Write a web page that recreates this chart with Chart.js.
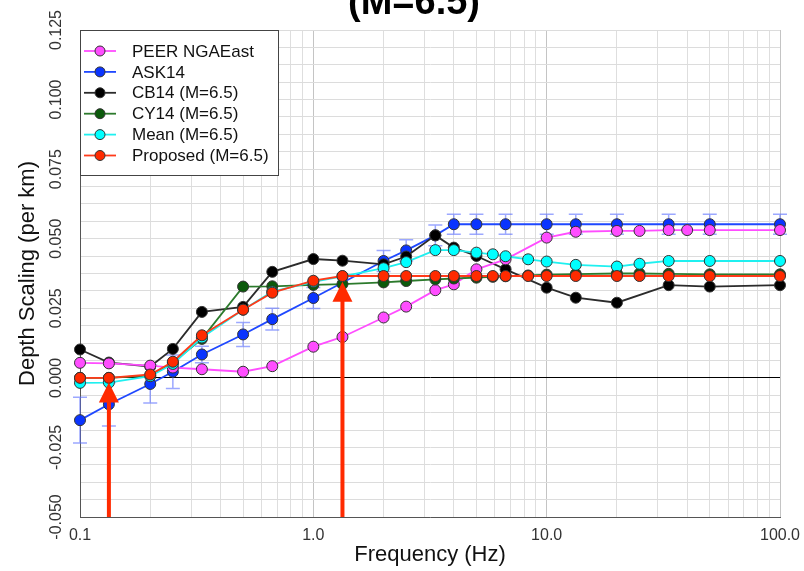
<!DOCTYPE html>
<html>
<head>
<meta charset="utf-8">
<script src="https://cdn.jsdelivr.net/npm/chart.js@4.4.1/dist/chart.umd.min.js"></script>
<style>
  html, body { margin: 0; padding: 0; background: #fff; }
</style>
</head>
<body>
<canvas id="depthChart" width="804" height="571"></canvas>
<script>
// Data (frequency in Hz, depth scaling per km)
const peerFreq = [0.1, 0.133, 0.2, 0.25, 0.333, 0.5, 0.667, 1.0, 1.333, 2.0, 2.5, 3.333, 4.0, 5.0, 6.667, 10, 13.33, 20, 25, 33.33, 40, 50, 100];
const peerVals = [0.0054, 0.0052, 0.0044, 0.0037, 0.0031, 0.0022, 0.0042, 0.0112, 0.0147, 0.0217, 0.0256, 0.0315, 0.0336, 0.0390, 0.0426, 0.0504, 0.0525, 0.0528, 0.0528, 0.0531, 0.0531, 0.0531, 0.0531];

const askFreq = [0.1, 0.133, 0.2, 0.25, 0.333, 0.5, 0.667, 1.0, 2.0, 2.5, 3.333, 4.0, 5.0, 6.667, 10, 13.33, 20, 33.33, 50, 100];
const askVals = [-0.0152, -0.0095, -0.0022, 0.0022, 0.0084, 0.0156, 0.0211, 0.0287, 0.0420, 0.0458, 0.0512, 0.0552, 0.0552, 0.0552, 0.0552, 0.0552, 0.0552, 0.0552, 0.0552, 0.0552];
const askErr  = [0.0082, 0.0078, 0.0068, 0.0060, 0.0030, 0.0043, 0.0039, 0.0038, 0.0038, 0.0038, 0.0037, 0.0036, 0.0036, 0.0036, 0.0036, 0.0036, 0.0036, 0.0036, 0.0036, 0.0036];

const cb14Freq = [0.1, 0.133, 0.2, 0.25, 0.333, 0.5, 0.667, 1.0, 1.333, 2.0, 2.5, 3.333, 4.0, 5.0, 6.667, 10, 13.33, 20, 33.33, 50, 100];
const cb14Vals = [0.0102, 0.0055, 0.0041, 0.0104, 0.0237, 0.0255, 0.0381, 0.0427, 0.0421, 0.0408, 0.0436, 0.0512, 0.0468, 0.0438, 0.0390, 0.0324, 0.0288, 0.0270, 0.0333, 0.0328, 0.0333];

// CY14, Mean and Proposed share one frequency list
const m65Freq  = [0.1, 0.133, 0.2, 0.25, 0.333, 0.5, 0.667, 1.0, 1.333, 2.0, 2.5, 3.333, 4.0, 5.0, 5.88, 6.667, 8.33, 10, 13.33, 20, 25, 33.33, 50, 100];
const cy14Vals = [0.0000, 0.0000, 0.0008, 0.0055, 0.0140, 0.0328, 0.0329, 0.0334, 0.0337, 0.0343, 0.0348, 0.0354, 0.0357, 0.0360, 0.0363, 0.0365, 0.0368, 0.0371, 0.0373, 0.0375, 0.0375, 0.0374, 0.0372, 0.0372];
const meanVals = [-0.0018, -0.0017, 0.0006, 0.0050, 0.0145, 0.0245, 0.0310, 0.0345, 0.0365, 0.0394, 0.0416, 0.0459, 0.0459, 0.0450, 0.0444, 0.0437, 0.0426, 0.0418, 0.0406, 0.0400, 0.0410, 0.0420, 0.0420, 0.0420];
const propVals = [0.0000, 0.0000, 0.0012, 0.0058, 0.0153, 0.0245, 0.0306, 0.0349, 0.0366, 0.0366, 0.0366, 0.0366, 0.0366, 0.0366, 0.0366, 0.0366, 0.0366, 0.0366, 0.0366, 0.0366, 0.0366, 0.0366, 0.0366, 0.0366];

// red arrows (frequency, value at arrow tip)
const arrowFreqs = [0.133, 1.333];
const arrowTips  = [-0.0017, 0.0345];

// axis labels
const xMajorTicks  = [0.1, 1, 10, 100];
const xMajorLabels = ['0.1', '1.0', '10.0', '100.0'];
const yLabelTicks  = [-0.05, -0.025, 0, 0.025, 0.05, 0.075, 0.1, 0.125];

const FONT = "'Liberation Sans', Arial, Helvetica, sans-serif";
Chart.defaults.font.family = FONT;

function toXY(freqs, vals) {
    return freqs.map((f, i) => ({ x: f, y: vals[i] }));
}

// grid lines 1..9 in every decade
const xGridValues = [];
[0.1, 1, 10].forEach(d => {
    for (let m = 1; m <= 9; m++) xGridValues.push(+(m * d).toPrecision(3));
});
xGridValues.push(100);

function isMajorFreq(v) {
    return xMajorTicks.some(m => Math.abs(m - v) / m < 1e-6);
}

function series(label, data, fill, line, order) {
    return {
        label: label,
        data: data,
        borderColor: line,
        backgroundColor: fill,
        pointBackgroundColor: fill,
        pointBorderColor: '#333',
        pointBorderWidth: 1,
        pointRadius: 5.5,
        borderWidth: 1.8,
        tension: 0,
        clip: false,
        order: order
    };
}

// error bars, arrows, legend box, rotated y labels and the cut title
const extras = {
    id: 'extras',
    beforeDatasetsDraw(chart) {
        const { ctx, scales: { x, y } } = chart;
        ctx.save();
        ctx.strokeStyle = 'rgba(90,110,255,0.6)';
        ctx.lineWidth = 1.5;
        askFreq.forEach((f, i) => {
            const px = x.getPixelForValue(f);
            const top = y.getPixelForValue(askVals[i] + askErr[i]);
            const bot = y.getPixelForValue(askVals[i] - askErr[i]);
            ctx.beginPath();
            ctx.moveTo(px, top); ctx.lineTo(px, bot);
            ctx.moveTo(px - 7, top); ctx.lineTo(px + 7, top);
            ctx.moveTo(px - 7, bot); ctx.lineTo(px + 7, bot);
            ctx.stroke();
        });
        ctx.restore();
    },
    afterDatasetsDraw(chart) {
        const { ctx, chartArea, scales: { x, y } } = chart;
        ctx.save();
        // arrows
        ctx.fillStyle = '#ff2a00';
        ctx.strokeStyle = '#ff2a00';
        arrowFreqs.forEach((f, i) => {
            const px = x.getPixelForValue(f);
            const tip = y.getPixelForValue(arrowTips[i]);
            ctx.lineWidth = 4;
            ctx.beginPath();
            ctx.moveTo(px, chartArea.bottom);
            ctx.lineTo(px, tip + 18);
            ctx.stroke();
            ctx.beginPath();
            ctx.moveTo(px, tip);
            ctx.lineTo(px - 10, tip + 20);
            ctx.lineTo(px + 10, tip + 20);
            ctx.closePath();
            ctx.fill();
        });

        // legend box
        const lx = chartArea.left, ly = chartArea.top;
        ctx.fillStyle = '#fff';
        ctx.fillRect(lx, ly, 198, 145);
        ctx.strokeStyle = '#444';
        ctx.lineWidth = 1;
        ctx.strokeRect(lx + 0.5, ly + 0.5, 198, 145);
        ctx.font = '17px ' + FONT;
        ctx.textBaseline = 'middle';
        ctx.textAlign = 'left';
        chart.data.datasets.forEach((ds, i) => {
            const ry = ly + 21 + i * 20.9;
            ctx.strokeStyle = ds.borderColor;
            ctx.lineWidth = 1.8;
            ctx.beginPath();
            ctx.moveTo(lx + 4, ry); ctx.lineTo(lx + 36, ry);
            ctx.stroke();
            ctx.beginPath();
            ctx.arc(lx + 20, ry, 5, 0, Math.PI * 2);
            ctx.fillStyle = ds.pointBackgroundColor;
            ctx.fill();
            ctx.strokeStyle = '#333';
            ctx.lineWidth = 1;
            ctx.stroke();
            ctx.fillStyle = '#111';
            ctx.fillText(ds.label, lx + 52, ry + 1);
        });
        ctx.restore();
    },
    afterDraw(chart) {
        const { ctx, scales: { y } } = chart;
        ctx.save();
        ctx.fillStyle = '#333';
        ctx.font = '16px ' + FONT;
        ctx.textAlign = 'center';
        ctx.textBaseline = 'middle';
        yLabelTicks.forEach(v => {
            ctx.save();
            ctx.translate(57, y.getPixelForValue(v));
            ctx.rotate(-Math.PI / 2);
            ctx.fillText(v.toFixed(3), 0, 0);
            ctx.restore();
        });
        // title, partly above the top edge of the picture
        ctx.fillStyle = '#000';
        ctx.font = 'bold 38px ' + FONT;
        ctx.textBaseline = 'alphabetic';
        ctx.fillText('(M=6.5)', 414, 14);
        ctx.restore();
    }
};

const ctx = document.getElementById('depthChart').getContext('2d');

const depthChart = new Chart(ctx, {
    type: 'line',
    data: {
        datasets: [
            series('PEER NGAEast', toXY(peerFreq, peerVals), '#ff4dff', '#ff4dff', 3),
            series('ASK14', toXY(askFreq, askVals), '#0a34ff', '#1f48ff', 5),
            series('CB14 (M=6.5)', toXY(cb14Freq, cb14Vals), '#000000', '#2b2b2b', 4),
            series('CY14 (M=6.5)', toXY(m65Freq, cy14Vals), '#0b5a0b', '#2c7a2c', 2),
            series('Mean (M=6.5)', toXY(m65Freq, meanVals), '#00ffff', '#1ff0f0', 1),
            series('Proposed (M=6.5)', toXY(m65Freq, propVals), '#ff2a00', '#ff3a1a', 0)
        ]
    },
    options: {
        responsive: false,
        animation: false,
        layout: { padding: { top: 30, right: 24, left: 0, bottom: 0 } },
        plugins: {
            legend: { display: false },
            tooltip: { enabled: false }
        },
        scales: {
            x: {
                type: 'logarithmic',
                min: 0.1,
                max: 100,
                afterBuildTicks: (s) => { s.ticks = xGridValues.map(v => ({ value: v })); },
                afterFit: (s) => { s.height = 54; s.paddingRight = 0; s.paddingLeft = 0; },
                ticks: {
                    autoSkip: false,
                    maxRotation: 0,
                    minRotation: 0,
                    padding: 9,
                    color: '#333',
                    font: { size: 16 },
                    callback: (v) => {
                        const k = xMajorTicks.findIndex(m => Math.abs(m - v) / m < 1e-6);
                        return k >= 0 ? xMajorLabels[k] : '';
                    }
                },
                grid: {
                    drawTicks: false,
                    color: (c) => (c.tick && isMajorFreq(c.tick.value)) ? '#c4c4c4' : '#dedede',
                    lineWidth: 1
                },
                border: { color: '#555', width: 1 },
                title: {
                    display: true,
                    text: 'Frequency (Hz)',
                    color: '#111',
                    font: { size: 22 },
                    padding: { top: 0, bottom: 3 }
                }
            },
            y: {
                type: 'linear',
                min: -0.05,
                max: 0.125,
                afterFit: (s) => { s.width = 80; },
                ticks: { display: false, stepSize: 0.00625 },
                grid: {
                    drawTicks: false,
                    color: (c) => (c.tick && Math.abs(c.tick.value) < 1e-9) ? '#000' : '#dcdcdc',
                    lineWidth: 1
                },
                border: { color: '#555', width: 1 },
                title: {
                    display: true,
                    text: 'Depth Scaling (per km)',
                    color: '#111',
                    font: { size: 22 },
                    padding: { top: 15, bottom: 0 }
                }
            }
        }
    },
    plugins: [extras]
});
</script>
</body>
</html>
